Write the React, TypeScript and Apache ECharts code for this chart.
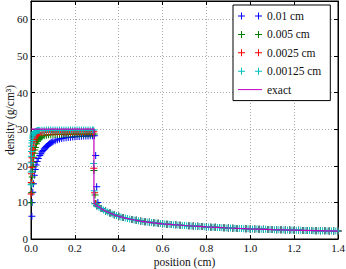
import React, { useEffect, useRef } from "react";
import * as echarts from "echarts";

// ---------- data (position cm, density g/cm^3) ----------
const xTicks = [0, 0.2, 0.4, 0.6, 0.8, 1.0, 1.2, 1.4];
const yTicks = [0, 10, 20, 30, 40, 50, 60];
const seriesNames = ["0.01 cm", "0.005 cm", "0.0025 cm", "0.00125 cm", "exact"];

const blueShocked: [number, number][] = [
  [0.004, 6.2], [0.005, 10.0], [0.008, 12.8], [0.011, 15.1], [0.015, 17.4], [0.019, 19.0],
  [0.023, 20.2], [0.028, 21.2], [0.033, 22.0], [0.04, 22.8], [0.045, 23.3], [0.05, 23.8],
  [0.055, 24.2], [0.06, 24.6], [0.065, 24.95], [0.07, 25.25], [0.075, 25.5], [0.08, 25.75],
  [0.085, 26.0], [0.09, 26.2], [0.095, 26.4], [0.1, 26.55], [0.11, 26.85], [0.12, 27.1],
  [0.13, 27.3], [0.14, 27.45], [0.15, 27.55], [0.16, 27.65], [0.17, 27.72], [0.18, 27.8],
  [0.19, 27.86], [0.2, 27.92], [0.21, 27.97], [0.22, 28.02], [0.23, 28.06], [0.24, 28.1],
  [0.25, 28.13], [0.26, 28.16], [0.27, 28.18], [0.28, 28.2], [0.289, 28.2],
  [0.295, 22.8], [0.2995, 14.3], [0.305, 10.0],
];

const greenShocked: [number, number][] = [
  [0.0012, 9.9], [0.0025, 12.6], [0.004, 15.0], [0.0055, 16.9], [0.007, 18.5], [0.0085, 19.8],
  [0.01, 20.9], [0.0125, 22.3], [0.015, 23.4], [0.0175, 24.3], [0.02, 25.0], [0.025, 26.0],
  [0.03, 26.7], [0.035, 27.2], [0.04, 27.5], [0.045, 27.75], [0.05, 27.95], [0.06, 28.2],
  [0.07, 28.35], [0.08, 28.45], [0.09, 28.5], [0.1, 28.55], [0.11, 28.57], [0.12, 28.59],
  [0.13, 28.6], [0.14, 28.61], [0.15, 28.62], [0.16, 28.63], [0.17, 28.64], [0.18, 28.65],
  [0.19, 28.65], [0.2, 28.66], [0.21, 28.66], [0.22, 28.67], [0.23, 28.67], [0.24, 28.68],
  [0.25, 28.68], [0.26, 28.69], [0.27, 28.69], [0.28, 28.7], [0.288, 28.7],
  [0.287, 18.7], [0.292, 12.0], [0.297, 9.6],
];

const redShocked: [number, number][] = [
  [0.0006, 12.3], [0.0012, 15.4], [0.002, 17.8], [0.003, 19.6], [0.004, 21.0], [0.005, 22.2],
  [0.0065, 23.5], [0.008, 24.5], [0.01, 25.5], [0.0125, 26.4], [0.015, 27.0], [0.0175, 27.5],
  [0.02, 27.9], [0.025, 28.4], [0.03, 28.7], [0.035, 28.9], [0.04, 29.0], [0.05, 29.1],
  [0.06, 29.15], [0.07, 29.18], [0.08, 29.2], [0.09, 29.2], [0.1, 29.22], [0.11, 29.22],
  [0.12, 29.23], [0.13, 29.23], [0.14, 29.24], [0.15, 29.24], [0.16, 29.25], [0.17, 29.25],
  [0.18, 29.25], [0.19, 29.26], [0.2, 29.26], [0.21, 29.26], [0.22, 29.27], [0.23, 29.27],
  [0.24, 29.27], [0.25, 29.28], [0.26, 29.28], [0.27, 29.28], [0.28, 29.28], [0.287, 29.28],
  [0.286, 19.3], [0.29, 12.6], [0.294, 9.7],
];

const cyanShocked: [number, number][] = [
  [0.0003, 14.8], [0.0006, 18.3], [0.001, 20.8], [0.0015, 22.6], [0.002, 23.9], [0.003, 25.3],
  [0.004, 26.2], [0.005, 26.9], [0.0065, 27.6], [0.008, 28.1], [0.01, 28.5], [0.0125, 28.85],
  [0.015, 29.1], [0.0175, 29.25], [0.02, 29.35], [0.025, 29.5], [0.03, 29.6], [0.035, 29.65],
  [0.04, 29.7], [0.05, 29.72], [0.06, 29.73], [0.07, 29.74], [0.08, 29.75], [0.09, 29.75],
  [0.1, 29.76], [0.11, 29.76], [0.12, 29.77], [0.13, 29.77], [0.14, 29.77], [0.15, 29.78],
  [0.16, 29.78], [0.17, 29.78], [0.18, 29.78], [0.19, 29.79], [0.2, 29.79], [0.21, 29.79],
  [0.22, 29.79], [0.23, 29.8], [0.24, 29.8], [0.25, 29.8], [0.26, 29.8], [0.27, 29.8],
  [0.28, 29.8], [0.286, 29.8], [0.2855, 20.6], [0.2885, 13.2],
];

// pre-shock tail, shared by the coarser runs (they overlap completely)
const tailCoarse: [number, number][] = [
  [0.3, 9.1], [0.32, 8.3], [0.34, 7.65], [0.36, 7.1], [0.38, 6.6], [0.4, 6.2], [0.42, 5.87],
  [0.44, 5.58], [0.46, 5.33], [0.48, 5.1], [0.5, 4.9], [0.52, 4.72], [0.54, 4.56], [0.56, 4.42],
  [0.58, 4.28], [0.6, 4.15], [0.62, 4.05], [0.64, 3.95], [0.66, 3.86], [0.68, 3.77], [0.7, 3.68],
  [0.72, 3.6], [0.74, 3.52], [0.76, 3.45], [0.78, 3.38], [0.8, 3.3], [0.82, 3.24], [0.84, 3.18],
  [0.86, 3.12], [0.88, 3.06], [0.9, 3.0], [0.92, 2.95], [0.94, 2.9], [0.96, 2.85], [0.98, 2.81],
  [1.0, 2.76], [1.02, 2.72], [1.04, 2.68], [1.06, 2.65], [1.08, 2.61], [1.1, 2.57], [1.12, 2.54],
  [1.14, 2.51], [1.16, 2.47], [1.18, 2.44], [1.2, 2.41], [1.22, 2.38], [1.24, 2.35], [1.26, 2.33],
  [1.28, 2.3], [1.3, 2.27], [1.32, 2.25], [1.34, 2.22], [1.36, 2.2], [1.38, 2.18], [1.4, 2.16],
];

// pre-shock tail of the finest run
const cyanTail: [number, number][] = [
  [0.29, 9.6], [0.3, 9.1], [0.31, 8.7], [0.32, 8.3], [0.33, 7.95], [0.34, 7.65], [0.35, 7.35],
  [0.36, 7.1], [0.37, 6.85], [0.38, 6.6], [0.39, 6.4], [0.4, 6.2], [0.41, 6.03], [0.42, 5.87],
  [0.43, 5.72], [0.44, 5.58], [0.45, 5.45], [0.46, 5.33], [0.47, 5.21], [0.48, 5.1], [0.49, 5.0],
  [0.5, 4.9], [0.51, 4.81], [0.52, 4.72], [0.53, 4.64], [0.54, 4.56], [0.55, 4.49], [0.56, 4.42],
  [0.57, 4.35], [0.58, 4.28], [0.59, 4.21], [0.6, 4.15], [0.61, 4.1], [0.62, 4.05], [0.63, 4.0],
  [0.64, 3.95], [0.65, 3.9], [0.66, 3.86], [0.67, 3.81], [0.68, 3.77], [0.69, 3.72], [0.7, 3.68],
  [0.71, 3.64], [0.72, 3.6], [0.73, 3.56], [0.74, 3.52], [0.75, 3.49], [0.76, 3.45], [0.77, 3.42],
  [0.78, 3.38], [0.79, 3.34], [0.8, 3.3], [0.81, 3.27], [0.82, 3.24], [0.83, 3.21], [0.84, 3.18],
  [0.85, 3.15], [0.86, 3.12], [0.87, 3.09], [0.88, 3.06], [0.89, 3.03], [0.9, 3.0], [0.91, 2.98],
  [0.92, 2.95], [0.93, 2.93], [0.94, 2.9], [0.95, 2.88], [0.96, 2.85], [0.97, 2.83], [0.98, 2.81],
  [0.99, 2.78], [1.0, 2.76], [1.01, 2.74], [1.02, 2.72], [1.03, 2.7], [1.04, 2.68], [1.05, 2.66],
  [1.06, 2.65], [1.07, 2.63], [1.08, 2.61], [1.09, 2.59], [1.1, 2.57], [1.11, 2.55], [1.12, 2.54],
  [1.13, 2.52], [1.14, 2.51], [1.15, 2.49], [1.16, 2.47], [1.17, 2.46], [1.18, 2.44], [1.19, 2.43],
  [1.2, 2.41], [1.21, 2.4], [1.22, 2.38], [1.23, 2.37], [1.24, 2.35], [1.25, 2.34], [1.26, 2.33],
  [1.27, 2.31], [1.28, 2.3], [1.29, 2.28], [1.3, 2.27], [1.31, 2.26], [1.32, 2.25], [1.33, 2.24],
  [1.34, 2.22], [1.35, 2.21], [1.36, 2.2], [1.37, 2.19], [1.38, 2.18], [1.39, 2.17], [1.4, 2.16],
];

const exact: [number, number][] = [
  [0, 30], [0.287, 30], [0.287, 9.75], [0.3, 9.1], [0.32, 8.3], [0.34, 7.65], [0.36, 7.1],
  [0.38, 6.6], [0.4, 6.2], [0.43, 5.72], [0.46, 5.33], [0.5, 4.9], [0.55, 4.49], [0.6, 4.15],
  [0.65, 3.9], [0.7, 3.68], [0.8, 3.3], [0.9, 3.0], [1.0, 2.76], [1.1, 2.57], [1.2, 2.41],
  [1.3, 2.27], [1.4, 2.16],
];

const colors = ["#0000ff", "#008000", "#ff0000", "#00bfbf", "#bf00bf"];

// ---------- styling ----------
const FONT = "'Liberation Serif', 'DejaVu Serif', serif";
const PLUS = "path://M0,3H7V4H0Z M3,0H4V7H3Z";
const PLUS2 = "path://M0,3H7V4H0Z M3,0H4V7H3Z M17,3H24V4H17Z M20,0H21V7H20Z";
const LINE_ICON = "path://M0,3H24V4H0Z";

export default function App() {
  const ref = useRef<HTMLDivElement>(null);

  useEffect(() => {
    if (!ref.current) return;
    const chart = echarts.init(ref.current, undefined, { renderer: "svg" });

    const axisCommon = {
      axisLine: { show: true, onZero: false, lineStyle: { color: "#000", width: 1 } },
      axisTick: { show: true, inside: true, length: 4, lineStyle: { color: "#000" } },
    };

    const scatter = (name: string, color: string, data: [number, number][]) => ({
      name,
      type: "scatter",
      data,
      symbol: PLUS,
      symbolSize: 7,
      itemStyle: { color, opacity: 1, borderWidth: 0 },
      silent: true,
    });

    chart.setOption({
      animation: false,
      backgroundColor: "#fff",
      grid: {
        left: 31, right: 8, top: 1, bottom: 30, show: true, borderColor: "#000", borderWidth: 1,
        backgroundColor: "transparent", containLabel: false, outerBoundsMode: "none",
      },
      xAxis: [
        {
          type: "value", min: 0, max: 1.4, interval: 0.2, position: "bottom",
          ...axisCommon,
          axisLabel: { formatter: (v: number) => v.toFixed(1), color: "#111", fontFamily: FONT, fontSize: 11, margin: 3 },
          splitLine: { show: true, lineStyle: { color: "#a8a8a8", type: [1, 2], width: 1 } },
          name: "position (cm)", nameLocation: "middle", nameGap: 17, nameMoveOverlap: false,
          nameTextStyle: { color: "#111", fontFamily: FONT, fontSize: 11.5 },
        },
        {
          type: "value", min: 0, max: 1.4, interval: 0.2, position: "top",
          ...axisCommon,
          axisLabel: { show: false }, splitLine: { show: false },
        },
      ],
      yAxis: [
        {
          type: "value", min: 0, max: 65, interval: 10, position: "left",
          ...axisCommon,
          axisLabel: { color: "#111", fontFamily: FONT, fontSize: 11, margin: 3, showMaxLabel: false,
            formatter: (v: number) => (yTicks.indexOf(v) >= 0 ? String(v) : "") },
          splitLine: { show: true, lineStyle: { color: "#a8a8a8", type: [1, 2], width: 1 } },
          name: "density (g/cm³)", nameLocation: "middle", nameGap: 15, nameMoveOverlap: false,
          nameTextStyle: { color: "#111", fontFamily: FONT, fontSize: 11.5 },
        },
        {
          type: "value", min: 0, max: 65, interval: 10, position: "right",
          ...axisCommon,
          axisLabel: { show: false }, splitLine: { show: false },
        },
      ],
      legend: {
        orient: "vertical", left: 233, top: 5,
        padding: [5, 9, 5, 5], itemGap: 6.4, itemWidth: 24, itemHeight: 7,
        backgroundColor: "#fff", borderColor: "#000", borderWidth: 1,
        selectedMode: false,
        textStyle: { fontFamily: FONT, fontSize: 11.5, color: "#111" },
        data: seriesNames.map((n, i) => ({
          name: n,
          icon: i < 4 ? PLUS2 : LINE_ICON,
          itemStyle: { color: colors[i], borderColor: colors[i], borderWidth: 0, opacity: 1 },
        })),
      },
      series: [
        scatter(seriesNames[0], colors[0], blueShocked.concat(tailCoarse)),
        scatter(seriesNames[1], colors[1], greenShocked.concat(tailCoarse)),
        scatter(seriesNames[2], colors[2], redShocked.concat(tailCoarse)),
        scatter(seriesNames[3], colors[3], cyanShocked.concat(cyanTail)),
        {
          name: seriesNames[4], type: "line", data: exact, showSymbol: false, symbol: "none",
          itemStyle: { color: colors[4] }, lineStyle: { color: colors[4], width: 1.2 }, silent: true,
        },
      ],
    });

    return () => chart.dispose();
  }, []);

  return (
    <div
      ref={ref}
      style={{ position: "fixed", left: 0, top: 0, width: 346, height: 269, background: "#fff" }}
    />
  );
}
